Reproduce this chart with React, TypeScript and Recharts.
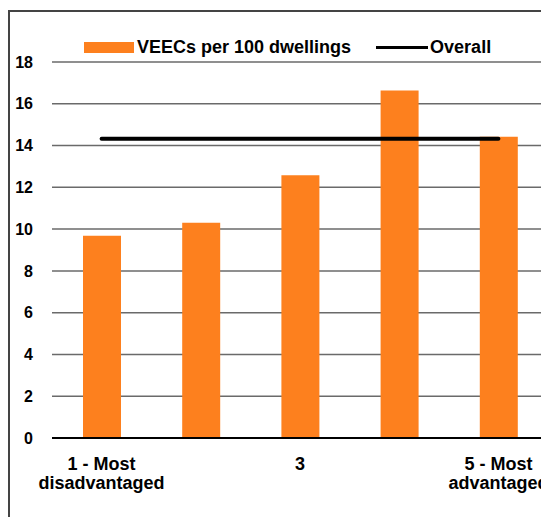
import { ComposedChart, Bar, Line, XAxis, YAxis, CartesianGrid } from 'recharts'

const quintiles = ['1', '2', '3', '4', '5']
const quintileLabels = [['1 - Most', 'disadvantaged'], ['2'], ['3'], ['4'], ['5 - Most', 'advantaged']]
const veecsPer100 = [9.68, 10.3, 12.58, 16.64, 14.42]
const overall = [14.33, 14.33, 14.33, 14.33, 14.33]
const yTicks = [0, 2, 4, 6, 8, 10, 12, 14, 16, 18]

const data = quintiles.map((q, i) => ({ q, veecs: veecsPer100[i], overall: overall[i] }))

const FONT = '"Liberation Sans", Arial, sans-serif'
const ORANGE = '#fd801e'

const QuintileTick = ({ x, y, payload }: any) => {
  const lines = quintileLabels[quintiles.indexOf(String(payload.value))] || []
  return (
    <text x={x} y={y} textAnchor="middle" fill="#000" fontFamily={FONT} fontWeight="bold" fontSize={18}>
      {lines.map((l, i) => (
        <tspan key={i} x={x} dy={i === 0 ? 32 : 19}>{l}</tspan>
      ))}
    </text>
  )
}

export default function App() {
  return (
    <div style={{ position: 'relative', width: 541, height: 509, overflow: 'hidden' }}>
      <div style={{ position: 'absolute', left: 0, top: 2, width: 600, height: 560, border: '2px solid #444' }}>
        <div style={{ position: 'absolute', left: 74, top: 25, display: 'flex', alignItems: 'center', fontFamily: FONT, fontWeight: 'bold', fontSize: 18, color: '#000', whiteSpace: 'nowrap' }}>
          <span style={{ display: 'inline-block', width: 50, height: 11, background: ORANGE, marginRight: 3 }} />
          <span>VEECs per 100 dwellings</span>
          <span style={{ display: 'inline-block', width: 52, height: 3, background: '#000', marginLeft: 25, marginRight: 2 }} />
          <span>Overall</span>
        </div>
        <ComposedChart width={560} height={520} data={data} margin={{ top: 50, right: 22, left: 0, bottom: 34 }}>
          <CartesianGrid vertical={false} stroke="#6a6a6a" strokeWidth={1.5} />
          <XAxis
            dataKey="q"
            interval={1}
            axisLine={{ stroke: '#000', strokeWidth: 2 }}
            tickLine={false}
            tickSize={0}
            tickMargin={0}
            height={60}
            tick={<QuintileTick />}
          />
          <YAxis
            domain={[0, 18]}
            ticks={yTicks}
            width={42}
            axisLine={false}
            tickLine={false}
            tickSize={0}
            tickMargin={19}
            tick={{ fill: '#000', fontFamily: FONT, fontWeight: 'bold', fontSize: 16 }}
          />
          <Bar dataKey="veecs" fill={ORANGE} barSize={38} isAnimationActive={false} />
          <Line dataKey="overall" stroke="#000" strokeWidth={4} strokeLinecap="round" dot={false} activeDot={false} isAnimationActive={false} />
        </ComposedChart>
      </div>
    </div>
  )
}
